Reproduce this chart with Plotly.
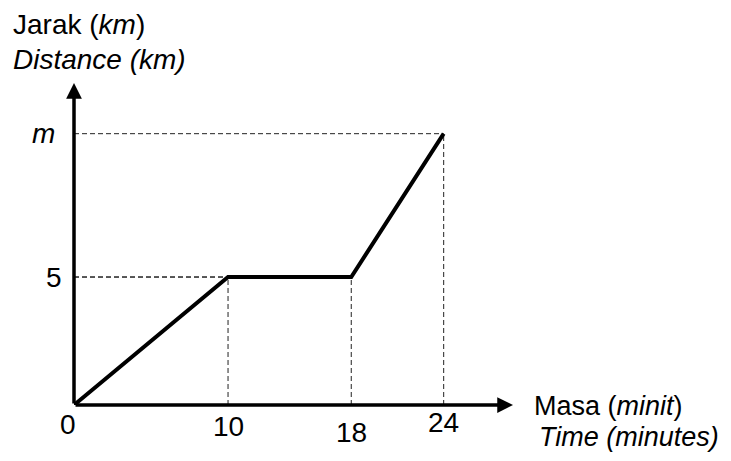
import plotly.graph_objects as go

# Data
time_min = [0, 10, 18, 24]
distance_km = [0, 5, 5, 10.6]
x_tick_labels = ["0", "10", "18", "24"]
y_tick_values = [5, 10.6]
y_tick_labels = ["5", "<i>m</i>"]

OFF = 8  # default page body margin
W, H = 731 - 2 * OFF, 461 - 2 * OFF
ML, MT = 74 - OFF, 83 - OFF
MR = (W + OFF) - 513
MB = (H + OFF) - 405
X_MAX, Y_MAX = 28.5, 12.58
FONT = "Liberation Sans, Arial, sans-serif"

fig = go.Figure()

# dashed guide lines
dash_style = dict(color="#222222", width=1, dash="5px,3px")
for xv, yv in zip(time_min[1:], distance_km[1:]):
    fig.add_trace(go.Scatter(x=[0, xv], y=[yv, yv], mode="lines", line=dash_style,
                             hoverinfo="skip", showlegend=False))
    fig.add_trace(go.Scatter(x=[xv, xv], y=[0, yv], mode="lines", line=dash_style,
                             hoverinfo="skip", showlegend=False))

# main journey line
fig.add_trace(go.Scatter(x=time_min, y=distance_km, mode="lines",
                         line=dict(color="black", width=4),
                         hoverinfo="skip", showlegend=False))

ann = []
# axes with arrowheads
for tip in [(X_MAX, 0), (0, Y_MAX)]:
    ann.append(dict(x=tip[0], y=tip[1], ax=0, ay=0, xref="x", yref="y", axref="x", ayref="y",
                    showarrow=True, arrowhead=2, arrowsize=0.9, arrowwidth=3.5,
                    arrowcolor="black", text=""))

tick_font = dict(family=FONT, size=28, color="black")
x_shifts = [(-6, -19), (0, -21), (0, -27), (0, -17)]
for xv, lab, (dx, dy) in zip(time_min, x_tick_labels, x_shifts):
    ann.append(dict(x=xv, y=0, xref="x", yref="y", text=lab, showarrow=False,
                    xanchor="center", yanchor="middle", xshift=dx, yshift=dy, font=tick_font))
for yv, lab, dx in zip(y_tick_values, y_tick_labels, [-20, -31]):
    ann.append(dict(x=0, y=yv, xref="x", yref="y", text=lab, showarrow=False,
                    xanchor="center", yanchor="middle", xshift=dx, font=tick_font))

def px_to_paper(px, py):
    # px, py are page pixels (window coordinates)
    return (px - OFF - ML) / (W - ML - MR), (H + OFF - MB - py) / (H - MT - MB)

for text, px, py, fs in [("Jarak (<i>km</i>)", 11, 24, 28),
                         ("<i>Distance (km)</i>", 11, 59, 28),
                         ("Masa (<i>minit</i>)", 532, 406, 27),
                         ("<i>Time (minutes)</i>", 537, 437, 27)]:
    xp, yp = px_to_paper(px, py)
    ann.append(dict(x=xp, y=yp, xref="paper", yref="paper", text=text, showarrow=False,
                    xanchor="left", yanchor="middle",
                    font=dict(family=FONT, size=fs, color="black")))

fig.update_layout(
    width=W, height=H,
    margin=dict(l=ML, r=MR, t=MT, b=MB),
    paper_bgcolor="white", plot_bgcolor="white",
    xaxis=dict(range=[0, X_MAX], visible=False, fixedrange=True),
    yaxis=dict(range=[0, Y_MAX], visible=False, fixedrange=True),
    annotations=ann,
    showlegend=False,
)

fig.write_html("out.html", config={"displayModeBar": False})
